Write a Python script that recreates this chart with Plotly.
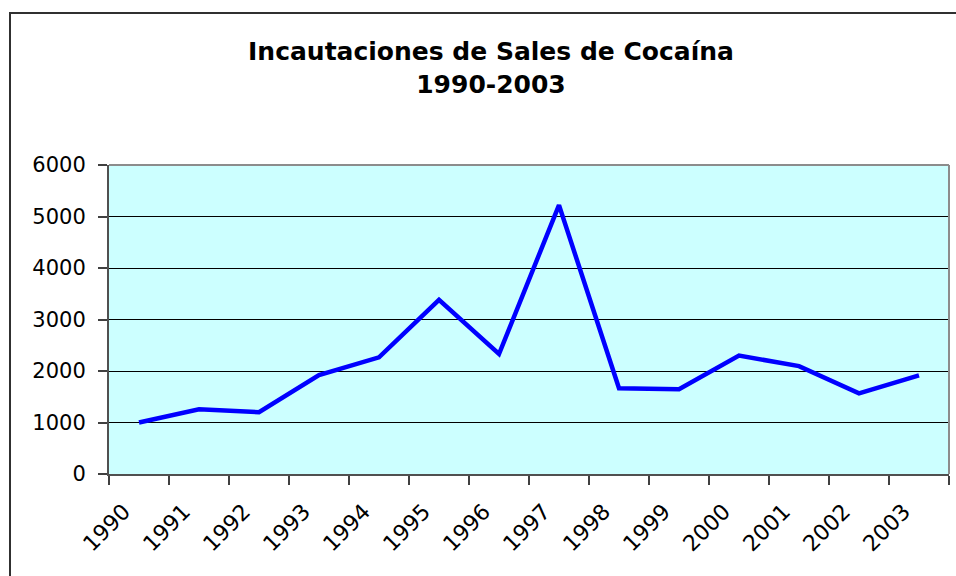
import plotly.graph_objects as go

# Incautaciones anuales de sales de cocaína (kg)
years = ["1990", "1991", "1992", "1993", "1994", "1995", "1996",
         "1997", "1998", "1999", "2000", "2001", "2002", "2003"]
seizures = [1000, 1255, 1200, 1920, 2265, 3380, 2330,
            5220, 1665, 1645, 2300, 2095, 1565, 1915]
y_ticks = [0, 1000, 2000, 3000, 4000, 5000, 6000]

W, H = 956, 576
ML, MR, MT, MB = 109, 7, 165, 102
PW, PH = W - ML - MR, H - MT - MB


def px_x(p):
    return (p - ML) / PW


def px_y(p):
    return (H - MB - p) / PH


fig = go.Figure()
fig.add_trace(go.Scatter(
    x=years, y=seizures, mode="lines",
    line=dict(color="#0000FF", width=4.5),
    hoverinfo="x+y",
))

fig.update_layout(
    width=W, height=H,
    margin=dict(l=ML, r=MR, t=MT, b=MB),
    paper_bgcolor="#FFFFFF",
    plot_bgcolor="#CCFFFF",
    showlegend=False,
    title=dict(
        text="Incautaciones de Sales de Cocaína<br>1990-2003",
        font=dict(family="DejaVu Sans", size=25, color="#000000", weight="bold"),
        x=491 / W, xanchor="center",
        y=1 - 60 / H, yanchor="top",
        xref="container", yref="container",
    ),
    xaxis=dict(
        type="category",
        categoryorder="array", categoryarray=years,
        tickson="boundaries",
        ticks="outside", ticklen=9, tickcolor="#404040", tickwidth=1.5,
        tickangle=-45,
        ticklabelshift=-15, ticklabelstandoff=14,
        tickfont=dict(family="DejaVu Sans", size=22, color="#000000"),
        showgrid=False, zeroline=False,
        showline=True, linecolor="#505050", linewidth=2,
        range=[-0.5, len(years) - 0.5],
    ),
    yaxis=dict(
        range=[0, 6000],
        tickvals=y_ticks,
        ticktext=[str(v) for v in y_ticks],
        ticks="outside", ticklen=9, tickcolor="#404040", tickwidth=1.5,
        ticklabelstandoff=8,
        tickfont=dict(family="DejaVu Sans", size=21, color="#000000"),
        showgrid=True, gridcolor="#000000", gridwidth=1,
        zeroline=False,
        showline=True, linecolor="#505050", linewidth=2,
    ),
    shapes=[
        # top and right edges of the plot area
        dict(type="line", xref="paper", yref="paper", x0=0, x1=1, y0=1, y1=1,
             line=dict(color="#8C8C8C", width=2)),
        dict(type="line", xref="paper", yref="paper", x0=1, x1=1, y0=0, y1=1,
             line=dict(color="#8C8C8C", width=2)),
        # chart frame
        dict(type="rect", xref="paper", yref="paper",
             x0=px_x(10), x1=px_x(W + 10), y0=px_y(H + 10), y1=px_y(13),
             line=dict(color="#303030", width=2), fillcolor="rgba(0,0,0,0)"),
    ],
)

fig.write_html("out.html")
